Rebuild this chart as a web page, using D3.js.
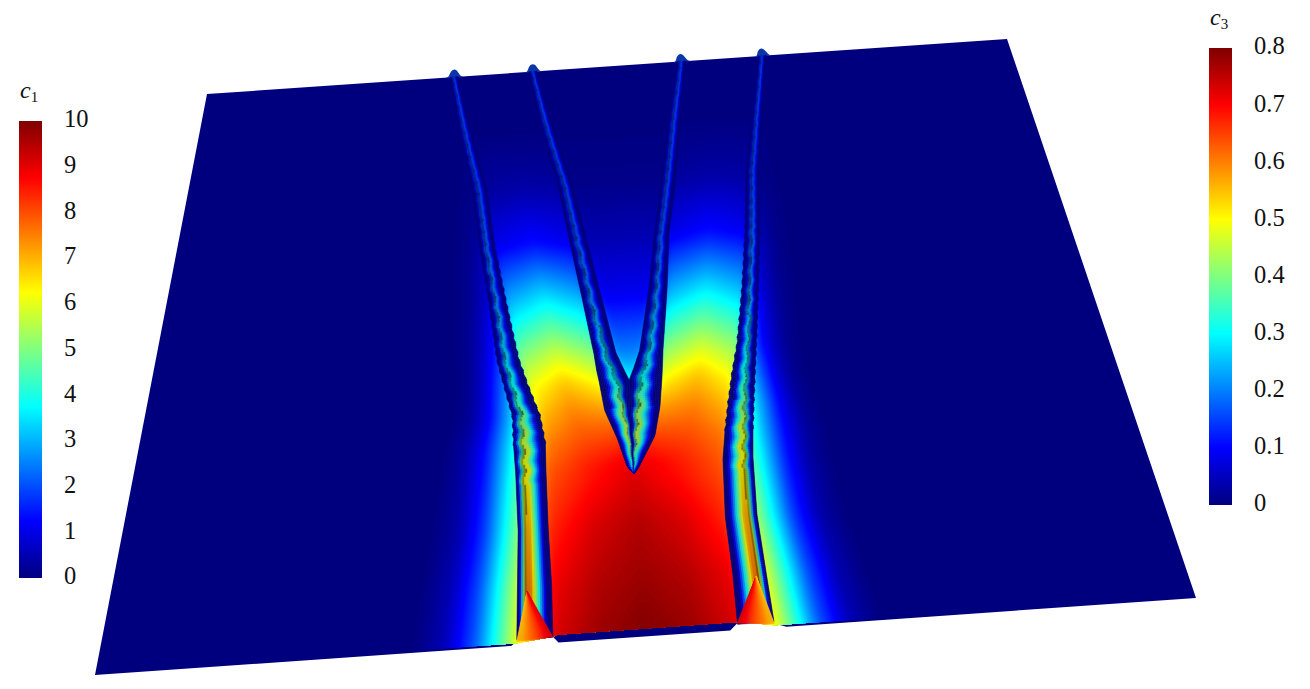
<!DOCTYPE html>
<html>
<head>
<meta charset="utf-8">
<script src="https://cdn.jsdelivr.net/npm/d3@7"></script>
<style>
  html, body { margin: 0; padding: 0; background: #fff; }
  svg { display: block; }
  text { font-family: "Liberation Serif", serif; fill: #111; }
</style>
</head>
<body>
<svg id="chart" width="1310" height="689"></svg>
<script>
// Legend ticks
const c1Ticks = [0, 1, 2, 3, 4, 5, 6, 7, 8, 9, 10];
const c3Ticks = [0, 0.1, 0.2, 0.3, 0.4, 0.5, 0.6, 0.7, 0.8];

// Rows along the sheet (0 = far edge, 1 = near edge)
const stations = [0, 0.1, 0.2, 0.3, 0.4, 0.5, 0.55, 0.6, 0.65, 0.7, 0.8, 0.9, 1];
const innerStations = [0, 0.1, 0.2, 0.3, 0.4, 0.5, 0.53, 0.55, 0.6, 0.65, 0.7, 0.708, 0.714];

// Wall edges across the sheet (0 = left edge, 1 = right edge)
const leftOuterA = [0.304, 0.318, 0.334, 0.344, 0.355, 0.364, 0.372, 0.380, 0.381, 0.383, 0.385, 0.384, 0.383];
const leftOuterB = [0.314, 0.333, 0.352, 0.361, 0.374, 0.387, 0.397, 0.408, 0.413, 0.413, 0.414, 0.416, 0.416];
const rightOuterA = [0.689, 0.670, 0.6526, 0.642, 0.630, 0.6165, 0.6075, 0.600, 0.5934, 0.588, 0.584, 0.585, 0.584];
const rightOuterB = [0.699, 0.683, 0.669, 0.659, 0.648, 0.637, 0.6315, 0.6263, 0.6215, 0.6178, 0.6145, 0.616, 0.6176];
const leftInnerA = [0.4025, 0.416, 0.434, 0.445, 0.456, 0.466, 0.468, 0.470, 0.474, 0.485, 0.493, 0.496, 0.4995];
const leftInnerB = [0.4125, 0.4315, 0.451, 0.4645, 0.477, 0.489, 0.496, 0.501, 0.4996, 0.500, 0.4995, 0.4995, 0.4995];
const rightInnerA = [0.5875, 0.569, 0.554, 0.540, 0.528, 0.514, 0.5065, 0.501, 0.4996, 0.500, 0.4995, 0.4995, 0.4995];
const rightInnerB = [0.599, 0.5845, 0.5713, 0.5567, 0.5484, 0.5387, 0.5365, 0.535, 0.5305, 0.5231, 0.506, 0.503, 0.4995];

// c3 read along each row
const sideC = [0, 0, 0.005, 0.03, 0.07, 0.13, 0.2, 0.27, 0.31, 0.35, 0.41, 0.46, 0.49];
const sideReach = [0.02, 0.02, 0.03, 0.035, 0.04, 0.045, 0.05, 0.06, 0.07, 0.075, 0.082, 0.09, 0.095];
const armOuterC = [0, 0, 0.025, 0.085, 0.24, 0.41, 0.49, 0.55, 0.6, 0.63, 0.67, 0.71, 0.73];
const armMidC = [0, 0, 0.03, 0.11, 0.29, 0.47, 0.55, 0.6, 0.64, 0.68, 0.73, 0.76, 0.78];
const armInnerC = [0, 0, 0.025, 0.085, 0.24, 0.41, 0.5, 0.58, 0.65, 0.72, 0.76, 0.78, 0.8];
const gapC = [0, 0, 0.008, 0.04, 0.09, 0.2, 0.3, 0.55, 0.68, 0.72, 0.76, 0.78, 0.8];
const outerRidgeC = [0.15, 0.15, 0.15, 0.17, 0.21, 0.27, 0.31, 0.38, 0.46, 0.5, 0.56, 0.6, 0.62];
const innerRidgeC = [0.15, 0.15, 0.15, 0.16, 0.2, 0.26, 0.28, 0.3, 0.4, 0.44, 0.3, 0.2, 0.12];

// Where the ridge sits inside each wall
const leftOuterPeak = [0.45, 0.45, 0.45, 0.45, 0.42, 0.4, 0.38, 0.36, 0.34, 0.32, 0.3, 0.3, 0.3];
const rightOuterPeak = [0.45, 0.45, 0.45, 0.5, 0.52, 0.55, 0.58, 0.62, 0.66, 0.68, 0.7, 0.72, 0.72];
const leftInnerPeak = [0.45, 0.45, 0.45, 0.45, 0.45, 0.5, 0.52, 0.55, 0.7, 0.8, 0.85, 0.85, 0.85];
const rightInnerPeak = [0.45, 0.45, 0.45, 0.45, 0.45, 0.45, 0.42, 0.4, 0.3, 0.2, 0.15, 0.15, 0.15];

const bumpCenters = [0.309, 0.4075, 0.593, 0.6945];

const svg = d3.select('#chart');

// Sheet corners on screen, the sheet is mapped bilinearly
const xFar = d3.scaleLinear().domain([0, 1]).range([207, 1007]);
const xNear = d3.scaleLinear().domain([0, 1]).range([95, 1196]);
const yFar = d3.scaleLinear().domain([0, 1]).range([94, 39]);
const yNear = d3.scaleLinear().domain([0, 1]).range([675, 598]);
const project = (u, v) => [
  xFar(u) * (1 - v) + xNear(u) * v,
  yFar(u) * (1 - v) + yNear(u) * v
];

const jetStops = [0, 0.125, 0.375, 0.625, 0.875, 1];
const jetColors = ['#00007f', '#0000ff', '#00ffff', '#ffff00', '#ff0000', '#7f0000'];
const jet = d3.scaleLinear().domain(jetStops.map(d => d * 0.8)).range(jetColors).clamp(true);

const along = (rows, values) => d3.scaleLinear().domain(rows).range(values).clamp(true);

const loA = along(stations, leftOuterA), loB = along(stations, leftOuterB);
const roA = along(stations, rightOuterA), roB = along(stations, rightOuterB);
const liA = along(innerStations, leftInnerA), liB = along(innerStations, leftInnerB);
const riA = along(innerStations, rightInnerA), riB = along(innerStations, rightInnerB);
const side = along(stations, sideC), reach = along(stations, sideReach);
const armOuter = along(stations, armOuterC), armMid = along(stations, armMidC), armInner = along(stations, armInnerC);
const gap = along(stations, gapC);

// Sheet outline with the two notches at the near edge
const outline = [
  [0, 0], [1, 0], [1, 1],
  [0.628, 1], [0.6176, 0.993], [0.584, 0.988], [0.577, 1],
  [0.421, 1], [0.416, 0.989], [0.383, 0.993], [0.378, 1],
  [0, 1]
];
// The colour stops short of the near edge, leaving a navy rim
const colouredArea = [
  [0, 0], [1, 0], [1, 0.996],
  [0.6176, 0.996], [0.584, 0.986], [0.42, 0.986], [0.416, 0.989], [0.383, 0.996],
  [0, 0.996]
];
const sheetLine = d3.line().x(d => project(d[0], d[1])[0]).y(d => project(d[0], d[1])[1]);
svg.append('path')
  .attr('d', sheetLine(outline) + 'Z')
  .attr('fill', jet(0));

// Value grid for the smooth part of the field
const nu = 560;
const nv = 420;
const values = new Float64Array(nu * nv);

function rowProfile(v) {
  const a0 = loA(v), a1 = loB(v), b0 = liA(v), b1 = liB(v);
  const c0 = riA(v), c1 = riB(v), d0 = roA(v), d1 = roB(v);
  const r = reach(v);
  const knots = [
    [a0 - r * 0.7, side(v) * 0.09], [a0 - r * 0.4, side(v) * 0.36], [a0, side(v)],
    [a1, armOuter(v)], [(a1 + b0) / 2, armMid(v)], [b0, armInner(v)],
    [b1, gap(v)], [(b1 + c0) / 2, gap(v)], [c0, gap(v)],
    [c1, armInner(v)], [(c1 + d0) / 2, armMid(v)], [d0, armOuter(v)],
    [d1, side(v)], [d1 + r * 0.4, side(v) * 0.36], [d1 + r * 0.7, side(v) * 0.09]
  ];
  return d3.scaleLinear()
    .domain([a0 - r].concat(knots.map((k, i) => k[0] + i * 1e-7), [d1 + r + 1e-5]))
    .range([0].concat(knots.map(k => k[1]), [0]))
    .clamp(true);
}

for (let j = 0; j < nv; j++) {
  const profile = rowProfile(j / (nv - 1));
  for (let i = 0; i < nu; i++) values[j * nu + i] = profile(i / (nu - 1));
}
d3.blur2({ data: values, width: nu, height: nv }, 2, 3);

const levelStep = 0.004;
const levels = d3.range(levelStep / 2, 0.8, levelStep);
const gridPath = d3.geoPath(d3.geoTransform({
  point(x, y) {
    const p = project(x / (nu - 1), y / (nv - 1));
    this.stream.point(p[0], p[1]);
  }
}));

svg.append('clipPath')
  .attr('id', 'coloured')
  .append('path')
  .attr('d', sheetLine(colouredArea) + 'Z');

svg.append('g')
  .attr('clip-path', 'url(#coloured)')
  .selectAll('path')
  .data(d3.contours().size([nu, nv]).thresholds(levels)(values))
  .join('path')
  .attr('d', gridPath)
  .attr('fill', d => jet(d.value + levelStep / 2));

// Small domes where the walls meet the far edge
const bumpShape = [[-0.011, 0], [-0.0075, -0.002], [-0.005, -0.009], [-0.0025, -0.013], [0, -0.014], [0.0025, -0.0125], [0.005, -0.008], [0.0085, -0.002], [0.012, 0]];
const bumpLine = d3.line()
  .x(d => project(d[0], d[1])[0])
  .y(d => project(d[0], d[1])[1])
  .curve(d3.curveCatmullRom);
svg.append('g')
  .selectAll('path')
  .data(bumpCenters)
  .join('path')
  .attr('d', c => bumpLine(bumpShape.map(p => [c + p[0], p[1] + 0.001])) + 'Z')
  .attr('fill', '#0a36a6');

// Walls, drawn as small shaded cells
const tri = x => { const f = x - Math.floor(x); return f < 0.5 ? 2 * f : 2 - 2 * f; };

const walls = [
  { a: loA, b: loB, peak: along(stations, leftOuterPeak), ridge: along(stations, outerRidgeC), end: 0.99, flip: false, rough: true },
  { a: liA, b: liB, peak: along(innerStations, leftInnerPeak), ridge: along(innerStations, innerRidgeC), end: 0.714, flip: true, rough: false },
  { a: riA, b: riB, peak: along(innerStations, rightInnerPeak), ridge: along(innerStations, innerRidgeC), end: 0.714, flip: false, rough: false },
  { a: roA, b: roB, peak: along(stations, rightOuterPeak), ridge: along(stations, outerRidgeC), end: 0.99, flip: true, rough: true }
];

const tSteps = 18;
const vStep = 0.0035;
const cells = [];
walls.forEach(w => {
  d3.range(0, w.end, vStep).forEach(v => {
    const vNext = Math.min(v + vStep, w.end);
    const vMid = (v + vNext) / 2;
    const saw = vMid > 0.72 ? 0.5 : tri(vMid / (vMid < 0.3 ? 0.022 : 0.034));
    const peak = w.peak(vMid) + (vMid < 0.3 ? 0.06 : 0.14) * (saw - 0.5);
    const jag = w.rough && vMid > 0.1 && vMid < 0.65 ? 0.0014 * (tri(vMid / 0.016) - 0.5) : 0;
    const flip = w.flip && vMid > 0.45;
    // Navy rim at the wall edges, then a wide flat top on the ridge
    const rim = vMid < 0.6 ? 0.3 : 0.18;
    const flat = vMid < 0.35 ? 0.75 : 0.85;
    for (let i = 0; i < tSteps; i++) {
      const t0 = i / tSteps, t1 = (i + 1) / tSteps, t = (t0 + t1) / 2;
      const lit = t < peak ? t / peak : (1 - t) / (1 - peak);
      const g = Math.max(0, Math.min(1, (lit - rim) / (flat - rim)));
      const darkSide = flip ? t > peak : t < peak;
      const shade = darkSide
        ? 1 - (0.45 + 0.2 * saw) * Math.pow(lit, 1.5)
        : 0.82 + 0.18 * (1 - lit);
      const col = d3.rgb(jet(w.ridge(vMid) * g));
      const fill = d3.rgb(col.r * shade, col.g * shade, col.b * shade).formatHex();
      const edge = (tt, vv) => {
        const a = w.a(vv) - jag, b = w.b(vv) + jag;
        return project(a + (b - a) * tt, vv);
      };
      cells.push({ pts: [edge(t0, v), edge(t1, v), edge(t1, vNext), edge(t0, vNext)], fill });
    }
  });
});

svg.append('g')
  .selectAll('path')
  .data(cells)
  .join('path')
  .attr('d', d => 'M' + d.pts.join('L') + 'Z')
  .attr('fill', d => d.fill)
  .attr('stroke', d => d.fill)
  .attr('stroke-width', 0.5);

// Triangular caps at the near end of the outer walls
const capValues = [0.55, 0.58, 0.62, 0.66, 0.7, 0.73];
const caps = [
  { apex: [0.393, 0.907], from: [0.383, 0.993], to: [0.416, 0.989], c: capValues },
  { apex: [0.6064, 0.908], from: [0.584, 0.988], to: [0.6176, 0.993], c: capValues.slice().reverse() }
];
caps.forEach(cap => {
  const cScale = d3.scaleLinear().domain(d3.range(cap.c.length).map(i => i / (cap.c.length - 1))).range(cap.c);
  const fan = d3.range(0, 1, 1 / 40).map(s => {
    const e = s + 1 / 40;
    const at = q => [cap.from[0] + (cap.to[0] - cap.from[0]) * q, cap.from[1] + (cap.to[1] - cap.from[1]) * q];
    return { pts: [cap.apex, at(s), at(e)], fill: jet(cScale(s)) };
  });
  svg.append('g')
    .selectAll('path')
    .data(fan)
    .join('path')
    .attr('d', d => 'M' + d.pts.map(p => project(p[0], p[1])).join('L') + 'Z')
    .attr('fill', d => d.fill)
    .attr('stroke', d => d.fill)
    .attr('stroke-width', 0.5);
});

// Colour bars
const defs = svg.append('defs');
const grad = defs.append('linearGradient')
  .attr('id', 'jetBar')
  .attr('x1', 0).attr('x2', 0).attr('y1', 1).attr('y2', 0);
grad.selectAll('stop')
  .data(jetStops)
  .join('stop')
  .attr('offset', d => d)
  .attr('stop-color', (d, i) => jetColors[i]);

function colorBar(x, top, bottom, domain, ticks, name, sub, labelY) {
  const g = svg.append('g');
  g.append('rect')
    .attr('x', x).attr('y', top)
    .attr('width', 23).attr('height', bottom - top)
    .attr('fill', 'url(#jetBar)');

  const y = d3.scaleLinear().domain(domain).range([bottom, top]);
  const axis = d3.axisRight(y).tickValues(ticks).tickSize(0).tickPadding(0).tickFormat(d => d);
  const ax = g.append('g')
    .attr('transform', `translate(${x + 45},0)`)
    .call(axis);
  ax.select('.domain').remove();
  ax.selectAll('text')
    .attr('dy', '0.24em')
    .style('font-size', '24.5px')
    .style('font-family', '"Liberation Serif", serif');

  const label = g.append('text')
    .attr('x', x + 1)
    .attr('y', labelY)
    .style('font-size', '24px')
    .style('font-style', 'italic')
    .text(name);
  label.append('tspan')
    .attr('dy', 4)
    .style('font-size', '15px')
    .style('font-style', 'normal')
    .text(sub);
}

colorBar(19, 121, 578, [0, 10], c1Ticks, 'c', '1', 98);
colorBar(1209, 48, 505, [0, 0.8], c3Ticks, 'c', '3', 25);
</script>
</body>
</html>
